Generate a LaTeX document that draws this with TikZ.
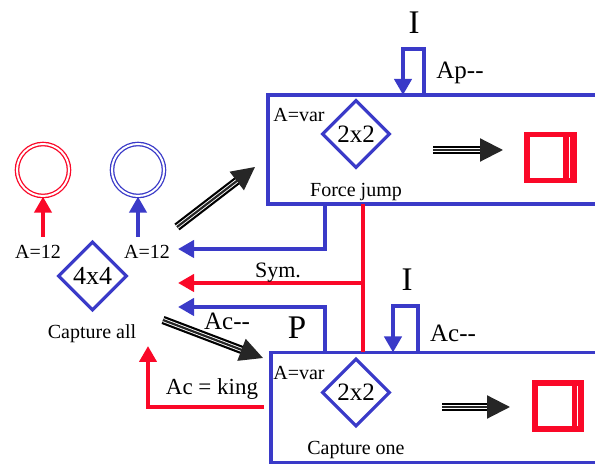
\documentclass[tikz,border=0pt]{standalone}
\usepackage{fontspec}
\setmainfont{Liberation Serif}
\usepackage{xcolor}
\usetikzlibrary{calc}
\usetikzlibrary{arrows.meta}
\usetikzlibrary{shapes}

\definecolor{bl}{RGB}{58,58,200}
\definecolor{rd}{RGB}{250,8,40}

\begin{document}
\begin{tikzpicture}
    [x=1pt, y=1pt,
     board/.style={rectangle, draw=bl, line width=3.2pt, outer sep=0pt, anchor=north west},
     grid/.style={diamond, draw=bl, line width=3.2pt, aspect=1, inner sep=0pt, minimum width=68, minimum height=68, font=\fontsize{25}{25}\selectfont},
     ring/.style={circle, double, double distance=2pt, line width=1.3pt, minimum size=52},
     redsq/.style={rectangle, fill=rd, minimum width=53, minimum height=51, inner sep=0pt},
     txt/.style={inner sep=0pt, font=\fontsize{20}{22}\selectfont},
     bigtxt/.style={inner sep=0pt, font=\fontsize{33}{33}\selectfont},
     midtxt/.style={inner sep=0pt, font=\fontsize{25}{25}\selectfont},
     bluearr/.style={draw=bl, line width=4pt, -{Triangle[length=16pt,width=17pt]}},
     redarr/.style={draw=rd, line width=4pt, -{Triangle[length=16pt,width=17pt]}},
     tripar/.style={-{Triangle[length=23pt,width=23pt]}, line width=2.2pt, black!85,
        preaction={draw, -, black, line width=8.4pt, shorten >=19pt},
        preaction={draw, -, white, line width=4pt, shorten >=19pt}}]
    \useasboundingbox (0,0) rectangle (595,465);
    \clip (0,0) rectangle (595,465);

    % the two boards
    \node(fjbox)[board, minimum width=352, minimum height=109] at (268,370) {};
    \node(cobox)[board, minimum width=352, minimum height=110] at (271,112.5) {};

    % 4x4 side
    \node(rring)[ring, draw=rd] at (43,295) {};
    \node(bring)[ring, draw=bl] at (138,295) {};
    \node(lblr)[txt] at (38,213) {A=12};
    \node(lblb)[txt] at (147,213) {A=12};
    \node(d4)[grid, minimum width=69, minimum height=69, font=\fontsize{26}{26}\selectfont] at (92.5,189) {4x4};
    \node(capall)[txt] at (92,131) {Capture all};
    \draw[redarr] (rring.south |- 0,228) -- (rring.south);
    \draw[bluearr] (bring.south |- 0,228) -- (bring.south);

    % force jump board
    \node(d2top)[grid] at (356,331) {2x2};
    \node(vartop)[txt] at (299,350) {A=var};
    \node(fjump)[txt] at (356,273) {Force jump};
    \node(sq1)[redsq] at (550.5,307.5) {};
    \fill[white] ([shift={(6,5)}]sq1.south west) rectangle ([shift={(-14,-5)}]sq1.north east);
    \draw[white, line width=1.2pt] ([shift={(-7.5,5)}]sq1.south east) -- ([shift={(-7.5,-5)}]sq1.north east);
    \coordinate (a1) at (433,315);
    \coordinate (a2) at (503,315);
    \draw[tripar] (a1) -- (a2);
    \node(itop)[bigtxt] at (414,442) {I};
    \node(aptop)[midtxt] at (460,392) {Ap-{}-};
    \draw[bluearr] ([xshift=156]fjbox.north west) -- ++(0,46) -| ([xshift=135]fjbox.north west);

    % capture one board
    \node(d2bot)[grid] at (356,72.5) {2x2};
    \node(varbot)[txt] at (299,92) {A=var};
    \node(cone)[txt] at (356,15) {Capture one};
    \node(sq2)[redsq, minimum width=52, minimum height=52] at (558,59) {};
    \fill[white] ([shift={(6,6)}]sq2.south west) rectangle ([shift={(-12,-6)}]sq2.north east);
    \draw[white, line width=1.2pt] ([shift={(-6.5,6)}]sq2.south east) -- ([shift={(-6.5,-6)}]sq2.north east);
    \coordinate (b1) at (442,58);
    \coordinate (b2) at (510,58);
    \draw[tripar] (b1) -- (b2);
    \node(ibot)[bigtxt] at (407,185) {I};
    \node(acbot)[midtxt] at (453,132) {Ac-{}-};
    \draw[bluearr] ([xshift=147]cobox.north west) -- ++(0,46) -| ([xshift=122]cobox.north west);

    % moves between them
    \coordinate (m1) at (177,238);
    \coordinate (m2) at (255,298);
    \draw[tripar] (m1) -- (m2);
    \coordinate (m3) at (163,145);
    \coordinate (m4) at (263,107);
    \draw[tripar] (m3) -- (m4);

    \coordinate (r1) at (178,216);
    \coordinate (r2) at (178,182);
    \coordinate (r3) at (178,158);
    \coordinate (r4) at (148,119);
    \coordinate (junc) at (363,182);
    \draw[bluearr] ([xshift=57]fjbox.south west) |- (r1);
    \draw[draw=rd, line width=4pt] ([xshift=95]fjbox.south west) -- ([xshift=92]cobox.north west);
    \draw[redarr] (junc) -- (r2);
    \draw[bluearr] ([xshift=54]cobox.north west) |- (r3);
    \draw[redarr, shorten <=7pt] (cobox.west) -| (r4);

    \node(sym)[inner sep=0pt, font=\fontsize{22}{22}\selectfont] at (278,192) {Sym.};
    \node(acmin)[midtxt] at (227,144) {Ac-{}-};
    \node(pp)[bigtxt] at (297,137) {P};
    \node(acking)[inner sep=0pt, font=\fontsize{23}{23}\selectfont] at (212,76) {Ac = king};
\end{tikzpicture}
\end{document}
